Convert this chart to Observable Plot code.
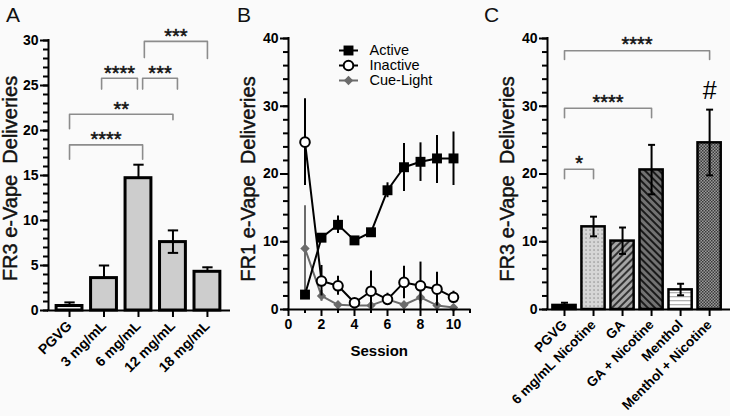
<!DOCTYPE html>
<html><head><meta charset="utf-8">
<script src="https://cdn.jsdelivr.net/npm/d3@7"></script>
<script src="https://cdn.jsdelivr.net/npm/@observablehq/plot@0.6"></script>
<style>
body{margin:0;background:#fafafa;}
#wrap{position:relative;width:730px;height:416px;overflow:hidden;background:#fafafa;font-family:"Liberation Sans",Arial,Helvetica,sans-serif;}
.panel{position:absolute;top:0;}
.letter{position:absolute;font-size:21px;line-height:21px;color:#111;z-index:5;}
g[aria-label="stars"] text{letter-spacing:2px;}
</style></head><body><div id="wrap"></div>
<script>
// ---------- DATA ----------
// Panel A
const catsA = ["PGVG", "3 mg/mL", "6 mg/mL", "12 mg/mL", "18 mg/mL"];
const meanA = [0.5, 3.6, 14.7, 7.6, 4.3];
const loA   = [0.5, 3.6, 14.7, 6.4, 4.3];
const hiA   = [0.9, 5.0, 16.2, 8.9, 4.8];
const yTicksA = [0, 5, 10, 15, 20, 25, 30];
const bracketsA = [
  {from: 0,    to: 2.12, top: 18.4, left: 16.8, right: 16.8, label: "****"},
  {from: 0,    to: 3.0,  top: 21.8, left: 20.2, right: 21.2, label: "**"},
  {from: 0.93, to: 1.97, top: 25.8, left: 24.6, right: 24.6, label: "****"},
  {from: 2.12, to: 3.13, top: 25.8, left: 24.6, right: 24.6, label: "***"},
  {from: 2.17, to: 4.0,  top: 29.9, left: 28.1, right: 28.0, label: "***"}
];
// Panel B
const sessions = [1, 2, 3, 4, 5, 6, 7, 8, 9, 10];
const activeMean = [2.2, 10.6, 12.5, 10.2, 11.4, 17.6, 21.0, 21.8, 22.3, 22.3];
const activeLo   = [2.2, 10.6, 11.2, 9.7, 10.9, 16.5, 17.4, 18.9, 18.6, 18.3];
const activeHi   = [2.2, 10.6, 13.8, 10.7, 11.9, 18.7, 24.5, 24.6, 25.7, 26.2];
const inactMean  = [24.7, 4.2, 3.5, 1.0, 2.7, 1.5, 4.0, 3.5, 3.0, 1.8];
const inactLo    = [18.3, 2.0, 2.1, 0.6, 0.0, 0.7, 1.6, 0.0, 0.5, 0.9];
const inactHi    = [31.1, 6.5, 4.9, 1.4, 5.7, 2.4, 6.4, 7.0, 5.5, 2.7];
const cueMean    = [9.0, 2.0, 0.7, 0.6, 0.6, 1.5, 0.7, 1.8, 0.6, 0.3];
const cueLo      = [2.7, 1.2, 0.3, 0.3, 0.3, 0.8, 0.3, 0.8, 0.3, 0.1];
const cueHi      = [15.3, 2.8, 1.1, 0.9, 0.9, 2.2, 1.1, 2.8, 0.9, 0.5];
const yTicksB = [0, 10, 20, 30, 40];
const xTicksB = [0, 2, 4, 6, 8, 10];
const legendItems = ["Active", "Inactive", "Cue-Light"];
// Panel C
const catsC = ["PGVG", "6 mg/mL Nicotine", "GA", "GA + Nicotine", "Menthol", "Menthol + Nicotine"];
const meanC = [0.6, 12.2, 10.1, 20.6, 2.9, 24.6];
const loC   = [0.6, 10.8, 8.2, 17.0, 2.1, 19.8];
const hiC   = [1.0, 13.7, 12.1, 24.3, 3.8, 29.5];
const yTicksC = [0, 10, 20, 30, 40];
const bracketsC = [
  {from: 0, to: 5, top: 38.2, left: 36.9, right: 36.9, label: "****"},
  {from: 0, to: 3, top: 29.7, left: 28.3, right: 28.3, label: "****"},
  {from: 0, to: 1, top: 20.7, left: 19.3, right: 19.3, label: "*"}
];
const annotC = [{i: 5, y: 32.3, label: "#"}];

// ---------- STYLE ----------
const FONT = "'Liberation Sans', Arial, Helvetica, sans-serif";
const baseStyle = {fontFamily: FONT, fontSize: "14px", color: "black", background: "transparent", overflow: "visible"};
const bracketGray = "#8c8c8c";
const fillsC = ["#000", "url(#pDots)", "url(#pFwd)", "url(#pBack)", "url(#pHoriz)", "url(#pCheck)"];
const fillsA = ["#f2f2f2", "#cdcdcd", "#cdcdcd", "#cdcdcd", "#cdcdcd"];

const wrap = document.getElementById("wrap");
function place(el, left, top) {
  el.classList.add("panel");
  el.style.left = left + "px";
  el.style.top = top + "px";
  wrap.appendChild(el);
}
function letter(t, left, top) {
  const d = document.createElement("div");
  d.className = "letter"; d.textContent = t;
  d.style.left = left + "px"; d.style.top = top + "px";
  wrap.appendChild(d);
}
const bracketPts = (bs) => bs.flatMap((b, k) => [
  {x: b.from, y: b.left, k}, {x: b.from, y: b.top, k},
  {x: b.to, y: b.top, k}, {x: b.to, y: b.right, k}
]);
const range = (a, b, s) => d3.range(a, b + 1e-9, s);

function yAxes(major, minorStep, ymax) {
  return [
    Plot.axisY(range(0, ymax, minorStep), {tickSize: 5, tickFormat: () => "", strokeWidth: 2, label: null}),
    Plot.axisY(major, {tickSize: 8, tickPadding: 2, fontSize: 14, fontWeight: "bold", strokeWidth: 2, label: null})
  ];
}
function yLabel(t, dx, dy) {
  return Plot.text([t], {frameAnchor: "left", rotate: -90, dx, dy, fontSize: 20, textAnchor: "middle", lineAnchor: "middle", fill: "#111", stroke: "#111", strokeWidth: 0.45});
}
function stars(data, dy) {
  return Plot.text(data, {x: d => (d.from + d.to) / 2, y: "top", text: "label", dy, fontSize: 20, ariaLabel: "stars", fill: "#111", stroke: "#111", strokeWidth: 0.5});
}

// ---------- PANEL A ----------
const dataA = catsA.map((c, i) => ({i, c, m: meanA[i], lo: loA[i], hi: hiA[i]}));
const domA = [-0.61, 4.64];
const plotA = Plot.plot({
  width: 240, height: 416, marginLeft: 48, marginRight: 11, marginTop: 40, marginBottom: 106,
  x: {domain: domA}, y: {domain: [0, 30]},
  style: baseStyle,
  marks: [
    Plot.line(bracketPts(bracketsA), {x: "x", y: "y", z: "k", stroke: bracketGray, strokeWidth: 1.6}),
    stars(bracketsA, -5),
    Plot.ruleX(dataA, {x: "i", y1: "m", y2: "hi", strokeWidth: 2}),
    Plot.link(dataA, {x1: d => d.i - 0.15, x2: d => d.i + 0.15, y1: "hi", y2: "hi", strokeWidth: 2}),
    ...dataA.map((d, i) => Plot.rect([d], {x1: d => d.i - 0.375, x2: d => d.i + 0.375, y1: 0, y2: "m", fill: fillsA[i], stroke: "black", strokeWidth: 3})),
    Plot.ruleX(dataA.filter(d => d.lo < d.m), {x: "i", y1: "lo", y2: "m", strokeWidth: 2}),
    Plot.link(dataA.filter(d => d.lo < d.m), {x1: d => d.i - 0.15, x2: d => d.i + 0.15, y1: "lo", y2: "lo", strokeWidth: 2}),
    ...yAxes(yTicksA, 1, 30),
    Plot.axisX(d3.range(catsA.length), {tickFormat: i => catsA[i], tickRotate: -45, tickSize: 7, tickPadding: 6, fontSize: 14, fontWeight: "bold", strokeWidth: 2, label: null}),
    Plot.ruleX([domA[0]], {y1: 0, y2: 30, strokeWidth: 2, strokeLinecap: "square"}),
    Plot.ruleY([0], {x1: domA[0], x2: domA[1], strokeWidth: 2, strokeLinecap: "square"}),
    yLabel("FR3 e-Vape\u00a0 Deliveries", -38, 3)
  ]
});
place(plotA, 0, 0);
letter("A", 6, 4);

// ---------- PANEL B ----------
const mkSeries = (m, lo, hi) => sessions.map((s, i) => ({s, m: m[i], lo: lo[i], hi: hi[i]}));
const act = mkSeries(activeMean, activeLo, activeHi);
const ina = mkSeries(inactMean, inactLo, inactHi);
const cue = mkSeries(cueMean, cueLo, cueHi);
const cueGray = "#6b6b6b";
const plotB = Plot.plot({
  width: 240, height: 416, marginLeft: 48, marginRight: 10.5, marginTop: 38, marginBottom: 107,
  x: {domain: [0, 11]}, y: {domain: [0, 40]},
  style: baseStyle,
  marks: [
    Plot.ruleX(cue, {x: "s", y1: "lo", y2: "hi", stroke: cueGray, strokeWidth: 2}),
    Plot.line(cue, {x: "s", y: "m", stroke: cueGray, strokeWidth: 2}),
    Plot.dot(cue, {x: "s", y: "m", symbol: "diamond2", r: 4.2, fill: cueGray}),
    Plot.ruleX(ina, {x: "s", y1: "lo", y2: "hi", strokeWidth: 2}),
    Plot.line(ina, {x: "s", y: "m", stroke: "black", strokeWidth: 2}),
    Plot.ruleX(act, {x: "s", y1: "lo", y2: "hi", strokeWidth: 2}),
    Plot.line(act, {x: "s", y: "m", stroke: "black", strokeWidth: 2}),
    Plot.dot(ina, {x: "s", y: "m", symbol: "circle", r: 4.8, fill: "white", stroke: "black", strokeWidth: 2}),
    Plot.dot(act, {x: "s", y: "m", symbol: "square", r: 5.6, fill: "black"}),
    ...yAxes(yTicksB, 2, 40),
    Plot.axisX(range(1, 11, 2), {tickSize: 4, tickFormat: () => "", strokeWidth: 2, label: null}),
    Plot.axisX(xTicksB, {tickSize: 7, tickPadding: 3, fontSize: 14, fontWeight: "bold", strokeWidth: 2, label: null}),
    Plot.ruleX([0], {y1: 0, y2: 40, strokeWidth: 2, strokeLinecap: "square"}),
    Plot.ruleY([0], {x1: 0, x2: 11, strokeWidth: 2, strokeLinecap: "square"}),
    yLabel("FR1 e-Vape\u00a0 Deliveries", -40, 5),
    Plot.text(["Session"], {frameAnchor: "bottom", dy: 42, fontSize: 15, fontWeight: "bold", textAnchor: "middle", lineAnchor: "middle"})
  ]
});
place(plotB, 240, 0);
letter("B", 237, 4);

// legend for panel B
const legStroke = ["black", "black", cueGray];
const legend = Plot.plot({
  width: 130, height: 72, margin: 0,
  x: {type: "identity", axis: null}, y: {type: "point", domain: legendItems, range: [13, 58], axis: null},
  style: baseStyle,
  marks: [
    ...legendItems.map((t, i) => Plot.ruleY([t], {x1: 9, x2: 28, stroke: legStroke[i], strokeWidth: 2})),
    Plot.dot([legendItems[0]], {x: 18, y: d => d, symbol: "square", r: 5.6, fill: "black"}),
    Plot.dot([legendItems[1]], {x: 18, y: d => d, symbol: "circle", r: 4.8, fill: "white", stroke: "black", strokeWidth: 2}),
    Plot.dot([legendItems[2]], {x: 18, y: d => d, symbol: "diamond2", r: 4.2, fill: cueGray}),
    Plot.text(legendItems, {x: 39, y: d => d, textAnchor: "start", fontSize: 14.5})
  ]
});
place(legend, 330, 29);

// ---------- PANEL C ----------
const dataC = catsC.map((c, i) => ({i, c, m: meanC[i], lo: loC[i], hi: hiC[i]}));
const domC = [-0.586, 5.72];
const plotC = Plot.plot({
  width: 250, height: 416, marginLeft: 67, marginRight: 0, marginTop: 38, marginBottom: 107,
  x: {domain: domC}, y: {domain: [0, 40]},
  style: baseStyle,
  marks: [
    Plot.line(bracketPts(bracketsC), {x: "x", y: "y", z: "k", stroke: bracketGray, strokeWidth: 1.6}),
    stars(bracketsC, -6),
    Plot.text(annotC, {x: "i", y: "y", text: "label", fontSize: 25}),
    Plot.ruleX(dataC, {x: "i", y1: "m", y2: "hi", strokeWidth: 2}),
    Plot.link(dataC, {x1: d => d.i - 0.12, x2: d => d.i + 0.12, y1: "hi", y2: "hi", strokeWidth: 2}),
    ...dataC.map((d, i) => Plot.rect([d], {x1: d => d.i - 0.4, x2: d => d.i + 0.4, y1: 0, y2: "m", fill: fillsC[i], stroke: "black", strokeWidth: 2.5})),
    Plot.ruleX(dataC.filter(d => d.lo < d.m), {x: "i", y1: "lo", y2: "m", strokeWidth: 2}),
    Plot.link(dataC.filter(d => d.lo < d.m), {x1: d => d.i - 0.12, x2: d => d.i + 0.12, y1: "lo", y2: "lo", strokeWidth: 2}),
    ...yAxes(yTicksC, 2, 40),
    Plot.axisX(d3.range(catsC.length), {tickFormat: i => catsC[i], tickRotate: -45, tickSize: 7, tickPadding: 6, fontSize: 13.5, fontWeight: "bold", strokeWidth: 2, label: null}),
    Plot.ruleX([domC[0]], {y1: 0, y2: 40, strokeWidth: 2, strokeLinecap: "square"}),
    Plot.ruleY([0], {x1: domC[0], x2: domC[1], strokeWidth: 2, strokeLinecap: "square"}),
    yLabel("FR3 e-Vape\u00a0 Deliveries", -40, 5)
  ]
});
plotC.insertAdjacentHTML("afterbegin", `<defs>
<pattern id="pDots" width="4" height="4" patternUnits="userSpaceOnUse"><rect width="4" height="4" fill="#d6d6d6"/><rect x="1.4" y="1.4" width="1.3" height="1.3" fill="#8a8a8a"/></pattern>
<pattern id="pFwd" width="5" height="5" patternUnits="userSpaceOnUse" patternTransform="rotate(45)"><rect width="5" height="5" fill="#a6a6a6"/><rect width="2" height="5" fill="#333"/></pattern>
<pattern id="pBack" width="5" height="5" patternUnits="userSpaceOnUse" patternTransform="rotate(-45)"><rect width="5" height="5" fill="#727272"/><rect width="2" height="5" fill="#1a1a1a"/></pattern>
<pattern id="pHoriz" width="4" height="4" patternUnits="userSpaceOnUse"><rect width="4" height="4" fill="#ffffff"/><rect width="4" height="1.3" fill="#b3b3b3"/></pattern>
<pattern id="pCheck" width="3" height="3" patternUnits="userSpaceOnUse"><rect width="3" height="3" fill="#9a9a9a"/><rect width="1.5" height="1.5" fill="#3a3a3a"/><rect x="1.5" y="1.5" width="1.5" height="1.5" fill="#3a3a3a"/></pattern>
</defs>`);
place(plotC, 480, 0);
letter("C", 484, 4);
</script></body></html>
